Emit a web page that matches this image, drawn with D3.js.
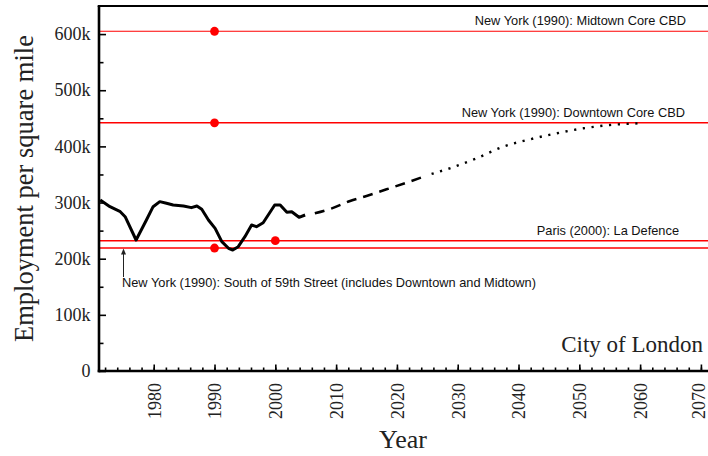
<!DOCTYPE html>
<html><head><meta charset="utf-8">
<script src="https://cdn.jsdelivr.net/npm/d3@7"></script>
<style>
html,body{margin:0;padding:0;background:#fff;}
svg{display:block;}
</style></head>
<body>
<svg id="chart" width="708" height="456"></svg>
<script>
// ---- data ----
const histYears  = [1971.2,1972.8,1974.5,1975.3,1977.1,1978.8,1979.9,1981.0,1982.1,1983.2,1984.9,1986.2,1987.1,1987.9,1989.0,1990.1,1991.2,1992.3,1993.0,1993.9,1995.0,1996.1,1996.9,1998.0,1999.9,2000.8,2001.9,2002.7,2003.9,2004.9];
const histValues = [304500,292600,283700,274800,233300,268900,292600,301600,298600,295600,293900,290900,293900,288000,268900,254000,230300,218500,215500,221400,239200,260000,257000,264000,295600,295600,282600,283700,273700,277800];
const dashYears  = [2006.5,2009.3,2012.3,2015.0,2018.3,2021.6,2024.1];
const dashValues = [280800,289700,302800,311700,323600,335400,345000];
const dotYears   = [2025.7,2028.7,2033.1,2037.5,2041.9,2046.3,2050.7,2055.0,2059.7];
const dotValues  = [351000,361000,378800,399500,412600,423300,432200,438000,441000];
const refLabels  = ["New York (1990): Midtown Core CBD","New York (1990): Downtown Core CBD","Paris (2000): La Defence","New York (1990): South of 59th Street (includes Downtown and Midtown)"];
const refValues  = [605000,442000,232000,219000];
const refYears   = [1990,1990,2000,1990];
const xMajorTicks = [1980,1990,2000,2010,2020,2030,2040,2050,2060,2070];
const yMajorTicks = [0,100000,200000,300000,400000,500000,600000];
const xTitle = "Year", yTitle = "Employment per square mile", cityLabel = "City of London";

// ---- layout ----
const svg = d3.select("#chart");
const L = 99, R = 707, T = 6, B = 371;
const x = d3.scaleLinear().domain([1971, 2071]).range([L, R]);
const y = d3.scaleLinear().domain([0, 650000]).range([B, T]);
const serif = "'Liberation Serif','Times New Roman',serif";
const sans = "'Liberation Sans',Arial,sans-serif";

// reference lines
const refG = svg.append("g");
refG.selectAll("line").data(refValues).join("line")
  .attr("x1", L).attr("x2", 708)
  .attr("y1", d => y(d)).attr("y2", d => y(d))
  .attr("stroke", "#ff0000").attr("stroke-width", (d,i) => i === 0 ? 1.2 : 1.6);
refG.selectAll("circle").data(refValues).join("circle")
  .attr("cx", (d,i) => x(refYears[i])).attr("cy", d => y(d)).attr("r", 4.4)
  .attr("fill", "#ff0000");

// labels for reference lines
const labelEnds = [686, 685, 679];
refLabels.slice(0,3).forEach((t,i) => {
  svg.append("text").attr("x", labelEnds[i]).attr("y", y(refValues[i]) - 6)
    .attr("text-anchor", "end").attr("font-family", sans).attr("font-size", 12.8)
    .attr("fill", "#111").text(t);
});
svg.append("text").attr("x", 122).attr("y", y(refValues[3]) + 39)
  .attr("font-family", sans).attr("font-size", 12.8).attr("fill", "#111").text(refLabels[3]);
// arrow
const ax = 123.5;
svg.append("line").attr("x1", ax).attr("x2", ax)
  .attr("y1", y(refValues[3]) + 29).attr("y2", y(refValues[3]) + 3)
  .attr("stroke", "#222").attr("stroke-width", 1);
svg.append("path")
  .attr("d", `M${ax},${y(refValues[3]) + 0.5} l-2.5,6 l5,0 z`)
  .attr("fill", "#222");

// series
const line = d3.line().x(d => x(d[0])).y(d => y(d[1]));
svg.append("path").datum(histYears.map((d,i) => [d, histValues[i]]))
  .attr("d", line).attr("fill", "none").attr("stroke", "#000")
  .attr("stroke-width", 3).attr("stroke-linejoin", "round");
svg.append("path").datum(dashYears.map((d,i) => [d, dashValues[i]]))
  .attr("d", line.curve(d3.curveMonotoneX)).attr("fill", "none").attr("stroke", "#000")
  .attr("stroke-width", 2.5).attr("stroke-dasharray", "10,7");
svg.append("path").datum(dotYears.map((d,i) => [d, dotValues[i]]))
  .attr("d", line.curve(d3.curveMonotoneX)).attr("fill", "none").attr("stroke", "#000")
  .attr("stroke-width", 2.4).attr("stroke-dasharray", "2.2,6.6");

// axes
const xMinor = d3.axisBottom(x).tickValues(d3.range(1972, 2071, 2)).tickSize(-3.5).tickFormat("");
const xMajor = d3.axisBottom(x).tickValues(xMajorTicks).tickSize(-6.5).tickFormat(d3.format("d"));
const yMinor = d3.axisLeft(y).tickValues(d3.range(50000, 600001, 100000)).tickSize(-4.5).tickFormat("");
const yMajor = d3.axisLeft(y).tickValues(yMajorTicks).tickSize(-7)
  .tickFormat(d => d === 0 ? "0" : (d/1000) + "k");

function styleAxis(g) {
  g.select(".domain").remove();
  g.selectAll(".tick line").attr("stroke", "#000").attr("stroke-width", 1.6);
  g.selectAll("text").attr("font-family", serif).attr("font-size", 18).attr("fill", "#222");
}
svg.append("g").attr("transform", `translate(0,${B})`).call(xMinor).call(styleAxis);
const gx = svg.append("g").attr("transform", `translate(0,${B})`).call(xMajor).call(styleAxis);
gx.selectAll(".tick text").attr("transform", "rotate(-90)")
  .attr("x", -12).attr("y", (d) => x(d) + 9 > 707 ? 707 - 9 - x(d) : 0)
  .attr("dy", "0.35em").style("text-anchor", "end");
svg.append("g").attr("transform", `translate(${L},0)`).call(yMinor).call(styleAxis);
svg.append("g").attr("transform", `translate(${L},0)`).call(yMajor).call(styleAxis)
  .selectAll(".tick text").attr("x", -8.5);

// frame lines
svg.append("line").attr("x1", L).attr("x2", L).attr("y1", T).attr("y2", B + 1.2)
  .attr("stroke", "#000").attr("stroke-width", 2.6);
svg.append("line").attr("x1", L - 1.3).attr("x2", 708).attr("y1", B).attr("y2", B)
  .attr("stroke", "#000").attr("stroke-width", 2.6);
svg.append("line").attr("x1", L - 1.3).attr("x2", 708).attr("y1", T).attr("y2", T)
  .attr("stroke", "#000").attr("stroke-width", 2.2);

// titles
svg.append("text").attr("x", (L + R) / 2).attr("y", 448).attr("text-anchor", "middle")
  .attr("font-family", serif).attr("font-size", 26).attr("fill", "#222").text(xTitle);
svg.append("text").attr("transform", `translate(33,${(T + B) / 2}) rotate(-90)`)
  .attr("text-anchor", "middle").attr("font-family", serif).attr("font-size", 26.5)
  .attr("fill", "#222").text(yTitle);
svg.append("text").attr("x", 703).attr("y", 352).attr("text-anchor", "end")
  .attr("font-family", serif).attr("font-size", 23).attr("fill", "#222").text(cityLabel);
</script>
</body></html>
